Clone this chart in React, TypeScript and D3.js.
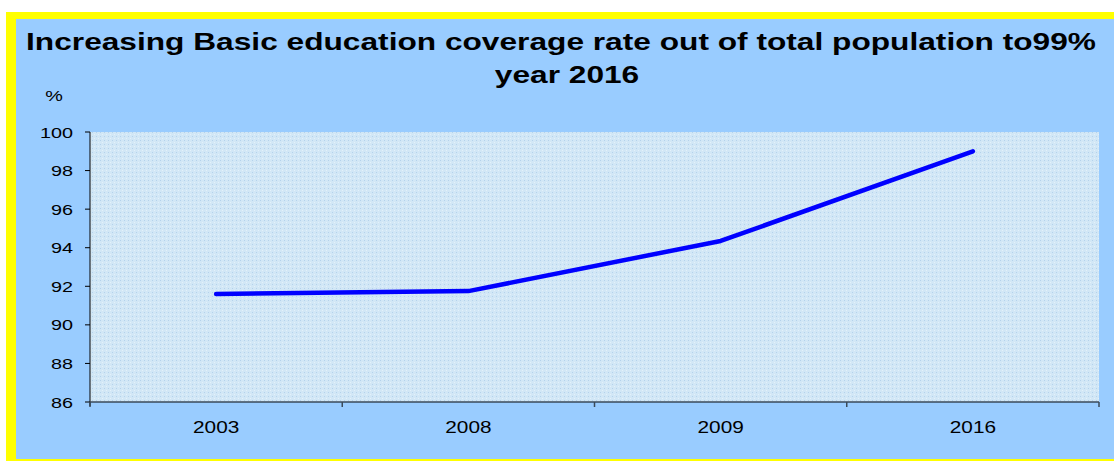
import React from "react";
import * as d3 from "d3";

const categories = ["2003", "2008", "2009", "2016"];
const values = [91.6, 91.75, 94.35, 99.0];
const yTicks = [86, 88, 90, 92, 94, 96, 98, 100];
const titleLines = [
  "Increasing Basic education coverage rate out of total population to99%",
  "year 2016",
];

const font = "Liberation Sans, Arial, sans-serif";

function T(props: {
  x: number;
  y: number;
  size: number;
  sx: number;
  anchor: "start" | "middle" | "end";
  bold?: boolean;
  children: React.ReactNode;
}) {
  return (
    <text
      transform={`translate(${props.x},${props.y}) scale(${props.sx},1)`}
      textAnchor={props.anchor}
      fontFamily={font}
      fontWeight={props.bold ? "bold" : "normal"}
      fontSize={props.size}
      fill="#000"
    >
      {props.children}
    </text>
  );
}

export default function App() {
  const W = 1114;
  const H = 461;
  const left = 90, right = 1099, top = 132, bottom = 402;
  const x = d3.scaleBand<string>().domain(categories).range([left, right]).padding(0);
  const y = d3.scaleLinear().domain([86, 100]).range([bottom, top]);
  const line = d3
    .line<number>()
    .x((_, i) => (x(categories[i]) as number) + x.bandwidth() / 2)
    .y((d) => y(d));
  const boundaries = categories.map((c) => x(c) as number).concat([right]);
  return (
    <svg
      width={W}
      height={H}
      style={{ position: "absolute", left: 0, top: 0, display: "block" }}
    >
      <defs>
        <pattern id="dots" width="4" height="4" patternUnits="userSpaceOnUse">
          <rect width="4" height="4" fill="#D2E7F6" />
          <rect x="0" y="0" width="1" height="1" fill="#B4D2EC" />
          <rect x="2" y="2" width="1" height="1" fill="#E4F1FA" />
        </pattern>
      </defs>
      <rect x={0} y={0} width={W} height={H} fill="#ffffff" />
      <rect x={6} y={12} width={W - 6} height={H - 12} fill="#FFFF00" />
      <rect x={16} y={19} width={W - 16} height={H - 21} fill="#99CCFF" />
      {titleLines.map((t, i) => (
        <T key={i} x={i === 0 ? 561 : 567} y={50 + i * 33} size={24} sx={1.32} anchor="middle" bold>
          {t}
        </T>
      ))}
      <T x={54} y={101} size={15} sx={1.32} anchor="middle">
        %
      </T>
      <rect x={left} y={top} width={right - left} height={bottom - top} fill="url(#dots)" />
      {/* y axis */}
      <line x1={left} y1={top} x2={left} y2={bottom + 4} stroke="#000" strokeWidth={1} />
      {yTicks.map((t) => (
        <g key={t}>
          <line x1={left - 5} x2={left} y1={y(t)} y2={y(t)} stroke="#000" strokeWidth={1} />
          <T x={73} y={y(t) + 5.5} size={15} sx={1.32} anchor="end">
            {t}
          </T>
        </g>
      ))}
      {/* x axis */}
      <line x1={left} y1={bottom} x2={right} y2={bottom} stroke="#3A4A5A" strokeWidth={1.5} />
      {boundaries.map((b, i) => (
        <line key={i} x1={b} x2={b} y1={bottom} y2={bottom + 5} stroke="#3A4A5A" strokeWidth={1.5} />
      ))}
      {categories.map((c) => (
        <T
          key={c}
          x={(x(c) as number) + x.bandwidth() / 2}
          y={433}
          size={16}
          sx={1.3}
          anchor="middle"
        >
          {c}
        </T>
      ))}
      <path
        d={line(values) || ""}
        fill="none"
        stroke="#0000FF"
        strokeWidth={4.5}
        strokeLinecap="round"
        strokeLinejoin="round"
      />
    </svg>
  );
}
